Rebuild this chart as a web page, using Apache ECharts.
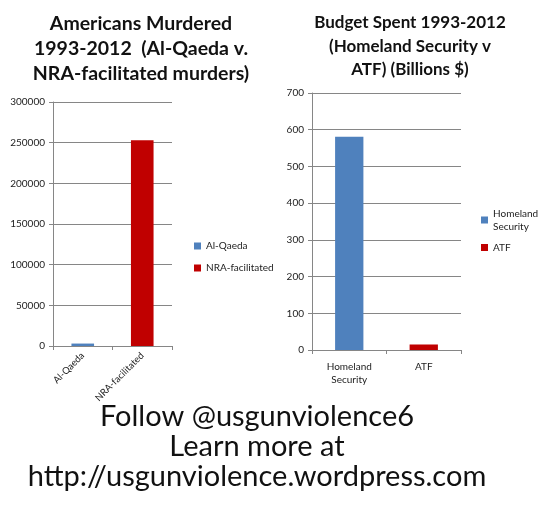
<!DOCTYPE html>
<html><head><meta charset="utf-8">
<script src="https://cdn.jsdelivr.net/npm/echarts@6/dist/echarts.min.js"></script>
<style>html,body{margin:0;padding:0;background:#fff}#c{width:543px;height:527px}</style>
</head><body><div id="c"></div>
<script>
const leftCategories = ['Al-Qaeda', 'NRA-facilitated'];
const leftSeriesNames = ['Al-Qaeda', 'NRA-facilitated'];
const leftValues = [3000, 253000];
const leftTicks = [0, 50000, 100000, 150000, 200000, 250000, 300000];

const rightCategories = ['Homeland\nSecurity', 'ATF'];
const rightSeriesNames = ['Homeland\nSecurity', 'ATF'];
const rightValues = [581, 15];
const rightTicks = [0, 100, 200, 300, 400, 500, 600, 700];

const colors = ['#4F81BD', '#C00000'];
const FONT = 'Lato';

const chart = echarts.init(document.getElementById('c'));

function mkSeries(names, values, axisIdx, stack) {
  return names.map((n, i) => ({
    name: n, type: 'bar', stack: stack,
    xAxisIndex: axisIdx, yAxisIndex: axisIdx,
    barWidth: '38%',
    itemStyle: { color: colors[i] },
    data: values.map((v, j) => (j === i ? v : '-'))
  }));
}

const axisLabel = { color: '#222', fontSize: 10, fontFamily: FONT, formatter: v => String(v) };
const grayLine = { lineStyle: { color: '#868686', width: 1 } };

chart.setOption({
  animation: false,
  title: [
    { text: 'Americans Murdered\n1993-2012  (Al-Qaeda v.\nNRA-facilitated murders)', left: 141, top: 11, padding: 0, textAlign: 'center',
      textStyle: { fontFamily: FONT, fontWeight: 'bold', fontSize: 19.5, lineHeight: 25, color: '#111' } },
    { text: 'Budget Spent 1993-2012\n(Homeland Security v\nATF) (Billions $)', left: 410, top: 11, padding: 0, textAlign: 'center',
      textStyle: { fontFamily: FONT, fontWeight: 'bold', fontSize: 17, lineHeight: 23.5, color: '#111' } },
    { text: 'Follow @usgunviolence6\nLearn more at\nhttp://usgunviolence.wordpress.com', left: 257, top: 402, padding: 0, textAlign: 'center',
      textStyle: { fontFamily: FONT, fontWeight: 'normal', fontSize: 29, lineHeight: 30, color: '#111' } }
  ],
  legend: [
    { data: leftSeriesNames, orient: 'vertical', left: 189, top: 236, itemWidth: 7, itemHeight: 7, itemGap: 12,
      icon: 'rect', textStyle: { fontFamily: FONT, fontSize: 10, color: '#222' } },
    { data: rightSeriesNames, orient: 'vertical', left: 476, top: 202, itemWidth: 7, itemHeight: 7, itemGap: 8,
      icon: 'rect', textStyle: { fontFamily: FONT, fontSize: 10, color: '#222', lineHeight: 13 } }
  ],
  grid: [
    { left: 53, right: 371, top: 102, bottom: 181 },
    { left: 312, right: 82, top: 93, bottom: 177 }
  ],
  xAxis: [
    { type: 'category', gridIndex: 0, data: leftCategories,
      axisLine: grayLine, axisTick: { show: true, length: 4, lineStyle: { color: '#868686' } },
      axisLabel: { color: '#222', fontSize: 9.5, fontFamily: FONT, rotate: 45, margin: 8, interval: 0 } },
    { type: 'category', gridIndex: 1, data: rightCategories,
      axisLine: grayLine, axisTick: { show: true, length: 4, lineStyle: { color: '#868686' } },
      axisLabel: { color: '#222', fontSize: 10, fontFamily: FONT, margin: 10, interval: 0, lineHeight: 13 } }
  ],
  yAxis: [
    { type: 'value', gridIndex: 0, min: leftTicks[0], max: leftTicks[leftTicks.length - 1], interval: leftTicks[1] - leftTicks[0],
      axisLine: Object.assign({ show: true }, grayLine), axisTick: { show: true, length: 4, lineStyle: { color: '#868686' } },
      splitLine: grayLine, axisLabel: Object.assign({}, axisLabel, { margin: 8 }) },
    { type: 'value', gridIndex: 1, min: rightTicks[0], max: rightTicks[rightTicks.length - 1], interval: rightTicks[1] - rightTicks[0],
      axisLine: Object.assign({ show: true }, grayLine), axisTick: { show: true, length: 4, lineStyle: { color: '#868686' } },
      splitLine: grayLine, axisLabel: Object.assign({}, axisLabel, { margin: 8 }) }
  ],
  series: [].concat(
    mkSeries(leftSeriesNames, leftValues, 0, 'L'),
    mkSeries(rightSeriesNames, rightValues, 1, 'R')
  )
});
</script></body></html>
